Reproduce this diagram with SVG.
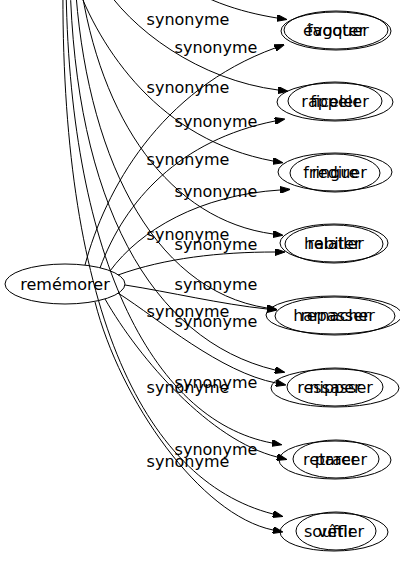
<svg xmlns="http://www.w3.org/2000/svg" width="400" height="563" viewBox="0 0 400 563">
<style>
text{font-family:"DejaVu Sans",sans-serif;font-size:16px;fill:#000;text-anchor:middle}
ellipse{fill:none;stroke:#000;stroke-width:1}
.e path{fill:none;stroke:#000;stroke-width:1;marker-end:url(#ah)}
</style>
<defs>
<marker id="ah" markerWidth="10" markerHeight="7" refX="0" refY="3.5" orient="auto" markerUnits="userSpaceOnUse"><path d="M0,0 L10,3.5 L0,7 z" fill="#000" stroke="#000"/></marker>
</defs>
<rect width="400" height="563" fill="#fff"/>
<g id="edges" class="e">
<path d="M85,265 C105,190 160,90 275,48"/>
<path d="M100,268 C125,200 180,140 275,121"/>
<path d="M110,271 C140,230 200,195 280,190"/>
<path d="M118,275 C165,258 220,252 275,252"/>
<path d="M125,285 C170,292 220,304 267,309"/>
<path d="M118,293 C160,320 220,372 276,383"/>
<path d="M105,299 C140,360 210,440 277,457"/>
<path d="M95,302 C120,400 200,515 273,530"/>
<path d="M160,-30 C200,0 240,12 277,18"/>
<path d="M100,-20 C130,30 200,80 278,90"/>
<path d="M75,-20 C100,50 160,140 273,161"/>
<path d="M80,-20 C100,120 170,220 273,234"/>
<path d="M75,-20 C85,150 150,290 267,308"/>
<path d="M70,-20 C75,200 150,340 275,370"/>
<path d="M66,-20 C68,250 150,420 272,443"/>
<path d="M63,-20 C60,300 140,480 273,514"/>
<text x="216" y="53">synonyme</text>
<text x="216" y="127">synonyme</text>
<text x="216" y="197">synonyme</text>
<text x="216" y="250">synonyme</text>
<text x="216" y="290">synonyme</text>
<text x="216" y="327">synonyme</text>
<text x="216" y="388">synonyme</text>
<text x="216" y="455">synonyme</text>
<text x="188" y="25">synonyme</text>
<text x="188" y="93">synonyme</text>
<text x="188" y="165">synonyme</text>
<text x="188" y="240">synonyme</text>
<text x="188" y="317">synonyme</text>
<text x="188" y="393">synonyme</text>
<text x="188" y="467">synonyme</text>
</g>
<g id="remémorer"><ellipse cx="65" cy="284" rx="60" ry="20"/><text x="65" y="290">remémorer</text></g>
<g id="évoquer"><ellipse cx="336" cy="31" rx="55" ry="19"/><text x="336" y="36">évoquer</text></g>
<g id="fagoter"><ellipse cx="336" cy="30" rx="52" ry="19"/><text x="336" y="36">fagoter</text></g>
<g id="rappeler"><ellipse cx="335" cy="102" rx="58" ry="19"/><text x="335" y="107">rappeler</text></g>
<g id="ficeler"><ellipse cx="335" cy="101" rx="47" ry="19"/><text x="335" y="107">ficeler</text></g>
<g id="redire"><ellipse cx="335" cy="173" rx="45" ry="19"/><text x="335" y="178">redire</text></g>
<g id="fringuer"><ellipse cx="335" cy="172" rx="57" ry="19"/><text x="335" y="178">fringuer</text></g>
<g id="relater"><ellipse cx="334" cy="244" rx="49" ry="19"/><text x="334" y="249">relater</text></g>
<g id="habiller"><ellipse cx="334" cy="243" rx="54" ry="19"/><text x="334" y="249">habiller</text></g>
<g id="repasser"><ellipse cx="335" cy="316" rx="60" ry="19"/><text x="335" y="321">repasser</text></g>
<g id="harnacher"><ellipse cx="334" cy="315" rx="68" ry="19"/><text x="334" y="321">harnacher</text></g>
<g id="ressasser"><ellipse cx="335" cy="388" rx="64" ry="19"/><text x="335" y="393">ressasser</text></g>
<g id="nipper"><ellipse cx="335" cy="387" rx="48" ry="19"/><text x="335" y="393">nipper</text></g>
<g id="retracer"><ellipse cx="335" cy="460" rx="56" ry="19"/><text x="335" y="465">retracer</text></g>
<g id="parer"><ellipse cx="336" cy="459" rx="43" ry="19"/><text x="336" y="465">parer</text></g>
<g id="souffler"><ellipse cx="334" cy="532" rx="54" ry="19"/><text x="334" y="537">souffler</text></g>
<g id="vêtir"><ellipse cx="336" cy="531" rx="40" ry="19"/><text x="336" y="537">vêtir</text></g>
</svg>
